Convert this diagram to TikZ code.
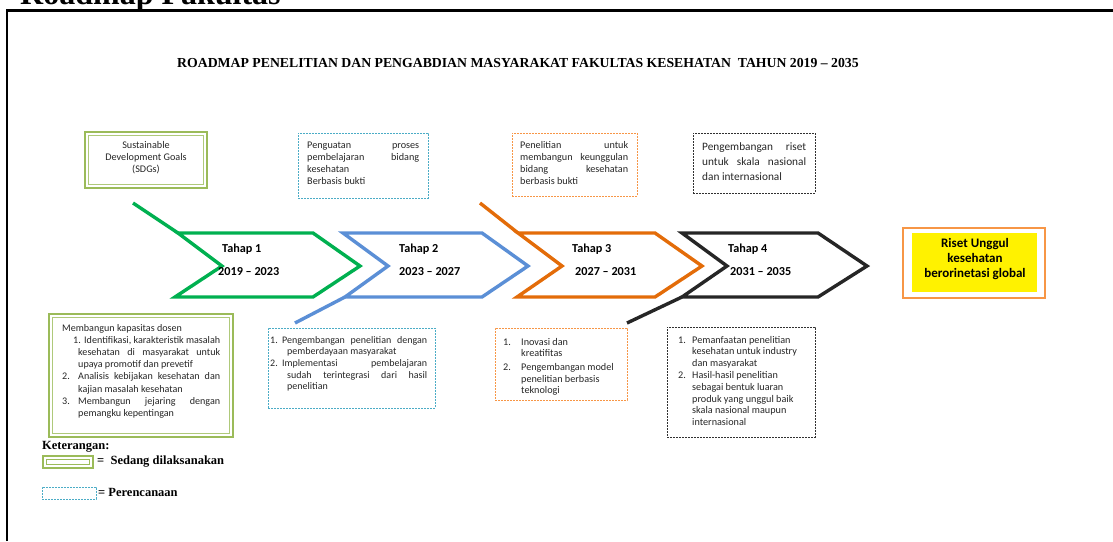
\documentclass[tikz,border=0pt]{standalone}
\usepackage{fontspec}
\setmainfont{Liberation Serif}
\newfontfamily\calfont{Carlito}
\definecolor{cgreen}{HTML}{00B050}
\definecolor{cblue}{HTML}{5B8FD6}
\definecolor{corange}{HTML}{E36C09}
\definecolor{cblack}{HTML}{262626}
\definecolor{bgreen}{HTML}{9BBB59}
\definecolor{bcyan}{HTML}{4BACC6}
\definecolor{borange}{HTML}{F79646}
\definecolor{bdark}{HTML}{303030}
\newcommand\jline[2]{\hspace*{#1}\makebox[\dimexpr\linewidth-#1\relax][s]{#2}}
\newcommand\lline[2]{\hspace*{#1}#2}
\newcommand\njline[4]{\hspace*{#1}\rlap{#2}\hspace*{\dimexpr#3-#1\relax}\makebox[\dimexpr\linewidth-#3\relax][s]{#4}}
\newcommand\nlline[4]{\hspace*{#1}\rlap{#2}\hspace*{\dimexpr#3-#1\relax}#4}
\tikzset{
  chev/.style={line width=3.4pt, line join=miter},
  frm/.style={anchor=north west, inner sep=0pt, outer sep=0pt},
  gbox/.style={frm, draw=bgreen, line width=2.6pt},
  cbox/.style={frm, draw=bcyan, line width=0.9pt, dash pattern=on 2pt off 1pt},
  obox/.style={frm, draw=borange, line width=0.9pt, dash pattern=on 2pt off 1pt},
  kbox/.style={frm, draw=bdark, line width=0.9pt, dash pattern=on 2pt off 1pt},
  txt/.style={anchor=base west, inner sep=0pt, text=black!85, font=\calfont\fontsize{10.2}{12}\selectfont},
  tahap/.style={anchor=base west, inner sep=0pt, font=\calfont\bfseries\fontsize{12.2}{14}\selectfont},
  leg/.style={anchor=base west, inner sep=0pt, font=\bfseries\fontsize{12.5}{14}\selectfont},
}
\begin{document}
\begin{tikzpicture}[x=1pt,y=-1pt]
\useasboundingbox (0,0) rectangle (1113,541);
% heading and frame
\node[anchor=base west, inner sep=0pt, font=\bfseries\fontsize{32}{36}\selectfont] (rf) at (20,4) {Roadmap Fakultas};
\draw[line width=2.2pt] (7,541) -- (7,10.5) -- (1113,10.5);
\node[anchor=base west, inner sep=0pt, font=\bfseries\fontsize{13.75}{16}\selectfont] (title) at (177,67.5) {ROADMAP PENELITIAN DAN PENGABDIAN MASYARAKAT FAKULTAS KESEHATAN\ \ TAHUN 2019 – 2035};

% chevrons
\draw[chev, cgreen] (133,203) -- (178,233);
\draw[chev, cgreen] (178,233) -- (313,233) -- (360,266) -- (313,297) -- (175,297) -- (222,266) -- cycle;
\draw[chev, cblue] (343,233) -- (482,233) -- (528,266) -- (482,297) -- (345,297) -- (388,266) -- cycle;
\draw[chev, cblue] (345,297) -- (295,323);
\draw[chev, corange] (480,203) -- (518,233);
\draw[chev, corange] (518,233) -- (655,233) -- (702,266) -- (655,297) -- (517,297) -- (562,266) -- cycle;
\draw[chev, cblack] (682,233) -- (818,233) -- (867,266) -- (818,297) -- (682,297) -- (727,266) -- cycle;
\draw[chev, cblack] (682,297) -- (627,323);

\node[tahap] (t1) at (222,252) {Tahap 1};
\node[tahap] (y1) at (218,275) {2019 – 2023};
\node[tahap] (t2) at (399,252) {Tahap 2};
\node[tahap] (y2) at (399,275) {2023 – 2027};
\node[tahap] (t3) at (572,252) {Tahap 3};
\node[tahap] (y3) at (575,275) {2027 – 2031};
\node[tahap] (t4) at (728,252) {Tahap 4};
\node[tahap] (y4) at (730,275) {2031 – 2035};

% top boxes
\node[gbox, minimum width=122pt, minimum height=56pt] (sdg) at (85,132) {};
\draw[bgreen!80, line width=0.8pt] ([shift={(3.5,3.5)}]sdg.north west) rectangle ([shift={(-3.5,-3.5)}]sdg.south east);
\node[txt, anchor=base] (sdgt) at (146,148) {\parbox[t]{112pt}{\centering\baselineskip=12.3pt Sustainable\\ Development Goals\\ (SDGs)}};

\node[cbox, minimum width=130pt, minimum height=65pt] (pb) at (298,133) {};
\node[txt] (pbt) at (307,148) {\parbox[t]{112pt}{\jline{0pt}{Penguatan proses}\\ \jline{0pt}{pembelajaran bidang}\\ \lline{0pt}{kesehatan}\\ \lline{0pt}{Berbasis bukti}}};

\node[obox, minimum width=125pt, minimum height=63pt] (pk) at (512,133) {};
\node[txt] (pkt) at (520,148) {\parbox[t]{108pt}{\baselineskip=12.3pt \jline{0pt}{Penelitian untuk}\\ \jline{0pt}{membangun keunggulan}\\ \jline{0pt}{bidang kesehatan}\\ \lline{0pt}{berbasis bukti}}};

\node[kbox, minimum width=122pt, minimum height=60pt] (pr) at (693,133) {};
\node[txt, font=\calfont\fontsize{11.3}{15}\selectfont] (prt) at (702,150) {\parbox[t]{104pt}{\jline{0pt}{Pengembangan riset}\\ \jline{0pt}{untuk skala nasional}\\ \lline{0pt}{dan internasional}}};

% goal
\node[frm, draw=borange, line width=2.4pt, minimum width=142pt, minimum height=70pt] (goal) at (903,228) {};
\node[frm, fill=yellow, minimum width=125pt, minimum height=59pt] (goalf) at (912,233) {};
\node[anchor=base, inner sep=0pt, font=\calfont\bfseries\fontsize{13}{15}\selectfont] (goalt) at (975,247) {\parbox[t]{124pt}{\centering Riset Unggul\\ kesehatan\\ berorinetasi global}};

% bottom boxes
\node[gbox, minimum width=184pt, minimum height=123pt] (b1) at (49,314) {};
\draw[bgreen!80, line width=0.8pt] ([shift={(3.5,3.5)}]b1.north west) rectangle ([shift={(-3.5,-3.5)}]b1.south east);
\node[txt, font=\calfont\fontsize{10.1}{12.2}\selectfont] (b1t) at (62,331) {\parbox[t]{158pt}{\lline{0pt}{Membangun kapasitas dosen}\\
\njline{11pt}{1.}{22pt}{Identifikasi, karakteristik masalah}\\
\jline{16pt}{kesehatan di masyarakat untuk}\\
\lline{16pt}{upaya promotif dan prevetif}\\
\njline{0pt}{2.}{16pt}{Analisis kebijakan kesehatan dan}\\
\lline{16pt}{kajian masalah kesehatan}\\
\njline{0pt}{3.}{16pt}{Membangun jejaring dengan}\\
\lline{16pt}{pemangku kepentingan}}};

\node[cbox, minimum width=167pt, minimum height=80pt] (b2) at (268,328) {};
\node[txt, font=\calfont\fontsize{10}{11.7}\selectfont] (b2t) at (270,343) {\parbox[t]{157pt}{\njline{0pt}{1.}{12pt}{Pengembangan penelitian dengan}\\
\lline{17pt}{pemberdayaan masyarakat}\\
\njline{0pt}{2.}{12pt}{Implementasi pembelajaran}\\
\jline{17pt}{sudah terintegrasi dari hasil}\\
\lline{17pt}{penelitian}}};

\node[obox, minimum width=132pt, minimum height=72pt] (b3) at (495,328) {};
\node[txt, font=\calfont\fontsize{10.2}{11.5}\selectfont] (b3t) at (503,345) {\parbox[t]{117pt}{\nlline{0pt}{1.}{18pt}{Inovasi dan}\\
\lline{18pt}{kreatifitas}\\[2.5pt]
\nlline{0pt}{2.}{18pt}{Pengembangan model}\\
\lline{18pt}{penelitian berbasis}\\
\lline{18pt}{teknologi}}};

\node[kbox, minimum width=148pt, minimum height=110pt] (b4) at (667,327) {};
\node[txt, font=\calfont\fontsize{10.2}{11.8}\selectfont] (b4t) at (678,343) {\parbox[t]{130pt}{\nlline{0pt}{1.}{14pt}{Pemanfaatan penelitian}\\
\lline{14pt}{kesehatan untuk industry}\\
\lline{14pt}{dan masyarakat}\\
\nlline{0pt}{2.}{14pt}{Hasil-hasil penelitian}\\
\lline{14pt}{sebagai bentuk luaran}\\
\lline{14pt}{produk yang unggul baik}\\
\lline{14pt}{skala nasional maupun}\\
\lline{14pt}{internasional}}};

% legend
\node[leg] (ket) at (42,449) {Keterangan:};
\node[gbox, line width=2.8pt, minimum width=50pt, minimum height=12pt] (lg1) at (43,456) {};
\draw[bgreen, line width=0.8pt] ([shift={(3.5,3.5)}]lg1.north west) rectangle ([shift={(-3.5,-3.5)}]lg1.south east);
\node[leg] (lt1) at (97,464) {=\ \ Sedang dilaksanakan};
\node[cbox, minimum width=54pt, minimum height=12pt] (lg2) at (42,487) {};
\node[leg] (lt2) at (98,496) {= Perencanaan};
\end{tikzpicture}
\end{document}
